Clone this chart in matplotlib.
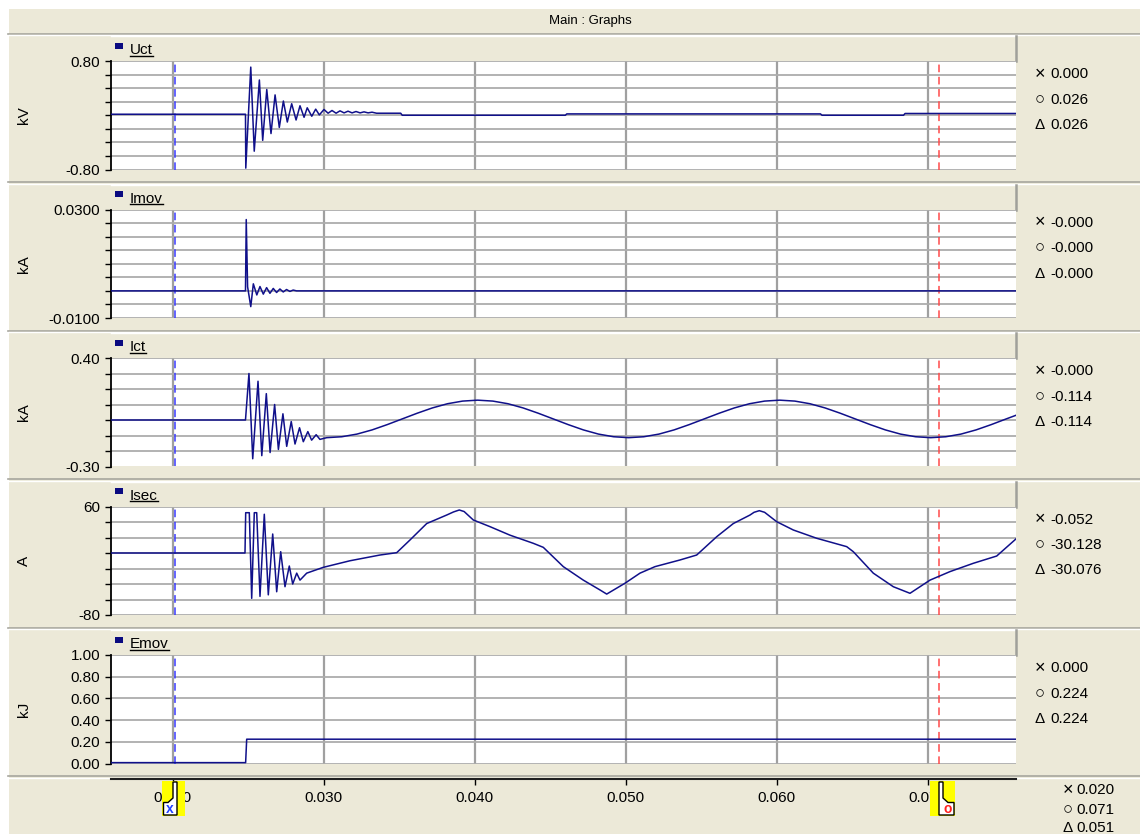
import matplotlib
matplotlib.use("Agg")
import matplotlib.pyplot as plt
from matplotlib.patches import Rectangle, Polygon
import numpy as np

W, H = 1140, 834
BEIGE = '#ECE9D8'
TRACE = '#10108A'
plt.rcParams['font.family'] = ['Liberation Sans', 'DejaVu Sans']

# ---- data (time in s) ----
uct_t = [0.0150, 0.02482, 0.02484, 0.02517, 0.02540, 0.02574, 0.02596, 0.02623, 0.02651,
         0.02678, 0.02706, 0.02733, 0.02759, 0.02788, 0.02817, 0.02843, 0.02870, 0.02891,
         0.02921, 0.02947, 0.02971, 0.03002, 0.03029, 0.03055, 0.03082, 0.03108, 0.03135,
         0.03161, 0.03188, 0.03214, 0.03241, 0.03267, 0.03294, 0.03320, 0.0335, 0.0351,
         0.0352, 0.0460, 0.0461, 0.0629, 0.0630, 0.0684, 0.0685, 0.0760]
uct_v = [0.015, 0.015, -0.78, 0.71, -0.53, 0.52, -0.37, 0.38, -0.27, 0.30, -0.18, 0.21,
         -0.10, 0.17, -0.07, 0.14, -0.03, 0.11, -0.015, 0.09, 0.005, 0.085, 0.03, 0.07,
         0.03, 0.065, 0.035, 0.06, 0.035, 0.055, 0.035, 0.05, 0.035, 0.045, 0.03, 0.03,
         0.0, 0.0, 0.02, 0.02, 0.0, 0.0, 0.026, 0.026]

imov_t = [0.0150, 0.02482, 0.02487, 0.02496, 0.02517, 0.02534, 0.02557, 0.02578, 0.02600,
          0.02622, 0.02644, 0.02666, 0.02688, 0.02710, 0.02732, 0.02754, 0.02776, 0.02798,
          0.02820, 0.0760]
imov_v = [0.0, 0.0, 0.0263, 0.0015, -0.0058, 0.0026, -0.0015, 0.0016, -0.0012, 0.0012,
          -0.0009, 0.0009, -0.0006, 0.0007, -0.0004, 0.0005, -0.0002, 0.0003, 0.0, 0.0]

ict_t = [0.0150, 0.02482, 0.02505, 0.02530, 0.02565, 0.02590, 0.02620, 0.02645, 0.02675,
         0.02700, 0.02730, 0.02755, 0.02785, 0.02810, 0.02840, 0.02865, 0.02895, 0.02920,
         0.02950, 0.02975,
         0.0302, 0.0312, 0.0322, 0.0332, 0.0342, 0.0352, 0.0362, 0.0372, 0.0382, 0.0392,
         0.0402, 0.0412, 0.0422, 0.0432, 0.0442, 0.0452, 0.0462, 0.0472, 0.0482, 0.0492,
         0.0502, 0.0512, 0.0522, 0.0532, 0.0542, 0.0552, 0.0562, 0.0572, 0.0582, 0.0592,
         0.0602, 0.0612, 0.0622, 0.0632, 0.0642, 0.0652, 0.0662, 0.0672, 0.0682, 0.0692,
         0.0702, 0.0712, 0.0722, 0.0732, 0.0742, 0.0752, 0.0760]
ict_v = [0.0, 0.0, 0.30, -0.25, 0.25, -0.23, 0.17, -0.21, 0.10, -0.19, 0.04, -0.17,
         -0.01, -0.155, -0.05, -0.14, -0.075, -0.13, -0.095, -0.125,
         -0.114, -0.108, -0.091, -0.064, -0.030, 0.007, 0.044, 0.078, 0.105, 0.122,
         0.128, 0.122, 0.105, 0.078, 0.044, 0.007, -0.030, -0.064, -0.091, -0.108,
         -0.114, -0.108, -0.091, -0.064, -0.030, 0.007, 0.044, 0.078, 0.105, 0.122,
         0.128, 0.122, 0.105, 0.078, 0.044, 0.007, -0.030, -0.064, -0.091, -0.108,
         -0.114, -0.108, -0.091, -0.064, -0.030, 0.007, 0.036]

isec_t = [0.0150, 0.024788, 0.024834, 0.024954, 0.025073, 0.025232, 0.025404, 0.025563,
          0.025781, 0.026066, 0.026331, 0.026623, 0.026887, 0.027152, 0.027437, 0.027722,
          0.027947, 0.028212, 0.028430, 0.028874, 0.029974, 0.031742, 0.033728, 0.034834,
          0.035715, 0.036821, 0.038146, 0.038600, 0.038980, 0.039300, 0.039907, 0.041013,
          0.042338, 0.043881, 0.044543, 0.045868, 0.047192, 0.048298, 0.048742, 0.049954,
          0.050947, 0.051940, 0.053596, 0.054702, 0.056026, 0.057126, 0.058232, 0.058500,
          0.058848, 0.059200, 0.060000, 0.061099, 0.062649, 0.064636, 0.065073, 0.066397,
          0.067722, 0.068828, 0.070152, 0.071477, 0.073020, 0.074570, 0.075894]
isec_v = [0.0, 0.0, 52, 52, 52, -58.5, 52, 52, -56, 50, -54, 24.5, -50, 1.7, -43.5, -16.8,
          -40, -26, -35, -26, -18.5, -10, -2.6, 0.4, 16.8, 38, 49, 53, 55.5, 53.5, 42.6,
          34, 23, 12.5, 7.3, -17.6, -35, -47.7, -53, -39, -26, -17.6, -9, -2.6, 21, 38,
          49, 52.5, 54.6, 52.5, 40.4, 29.7, 19, 8.2, 1.7, -26, -43.5, -52, -35, -24,
          -13.3, -3.9, 19]

emov_t = [0.0150, 0.02483, 0.02490, 0.0760]
emov_v = [0.008, 0.008, 0.224, 0.224]

names = ['Uct', 'Imov', 'Ict', 'Isec', 'Emov']
units = ['kV', 'kA', 'kA', 'A', 'kJ']
ylims = [(-0.8, 0.8), (-0.01, 0.03), (-0.3, 0.4), (-80, 60), (0.0, 1.0)]
ndiv = [8, 8, 7, 7, 5]
tick_fmt = ['%.2f', '%.4f', '%.2f', '%.0f', '%.2f']
readouts = [('0.000', '0.026', '0.026'),
            ('-0.000', '-0.000', '-0.000'),
            ('-0.000', '-0.114', '-0.114'),
            ('-0.052', '-30.128', '-30.076'),
            ('0.000', '0.224', '0.224')]
cursor_x, cursor_o = 0.02015, 0.07075
time_readout = ('0.020', '0.071', '0.051')
xticks = [0.020, 0.030, 0.040, 0.050, 0.060, 0.070]
xlim = (0.015894, 0.075848)
series = list(zip(names, units, [uct_t, imov_t, ict_t, isec_t, emov_t],
                  [uct_v, imov_v, ict_v, isec_v, emov_v], ylims, ndiv, tick_fmt, readouts))

# ---- layout (pixels, y from top) ----
PL, PR = 110.7, 1016.0
tops = [61, 209.5, 358, 506.5, 655]
PH = 108.5
SYMS = ['×', '○', 'Δ']
SYM_SIZES = [13, 12, 11]

fig = plt.figure(figsize=(W / 100, H / 100), dpi=100, facecolor='white')

bg = fig.add_axes([0, 0, 1, 1], zorder=0)
bg.set_xlim(0, W); bg.set_ylim(H, 0); bg.axis('off')
fg = fig.add_axes([0, 0, 1, 1], zorder=5)
fg.set_xlim(0, W); fg.set_ylim(H, 0); fg.axis('off'); fg.patch.set_alpha(0)

bg.add_patch(Rectangle((9, 9), W, H, facecolor=BEIGE, edgecolor='none'))
bg.text(590, 20.5, 'Main : Graphs', ha='center', va='center', fontsize=9.5, color='black')

# separators between blocks
for top in tops + [803.5]:
    bg.plot([8, W], [top - 27.5, top - 27.5], color='#A7A69E', lw=1.2)
    bg.plot([9, W], [top - 26, top - 26], color='white', lw=1.0)

header_texts = []
for (name, unit, t, v, ylim, nd, fmt, ro), top in zip(series, tops):
    # header strip
    bg.add_patch(Rectangle((PL - 0.7, top - 25), PR - PL + 0.7, 24.5,
                           facecolor=BEIGE, edgecolor='none'))
    bg.plot([PL, PR], [top - 25, top - 25], color='white', lw=1)
    bg.plot([PR, PR], [top - 25, top], color='#A0A09A', lw=1.8)
    bg.add_patch(Rectangle((115, top - 18.5), 8, 6, facecolor='#0A0A80', edgecolor='none'))
    header_texts.append(bg.text(130, top - 7, name, ha='left', va='baseline',
                                fontsize=11, color='black'))

    # y label
    bg.text(24, top + PH / 2, unit, rotation=90, ha='center', va='center', fontsize=11)

    # readouts on the right
    for sym, val, dy, fs in zip(SYMS, ro, [11.5, 37.0, 62.5], SYM_SIZES):
        bg.text(1040, top + dy, sym, ha='center', va='center_baseline', fontsize=fs)
        bg.text(1050, top + dy, val, ha='left', va='center_baseline', fontsize=11)

    ax = fig.add_axes([PL / W, 1 - (top + PH) / H, (PR - PL) / W, PH / H], zorder=1)
    ax.set_facecolor('white')
    ax.plot(t, v, color=TRACE, lw=1.1, zorder=4)
    ax.axvline(cursor_x, color='#3A3AFF', lw=1.1, ls=(0, (5, 3)), zorder=3)
    ax.axvline(cursor_o, color='#FF4A4A', lw=1.1, ls=(0, (5, 3)), zorder=3)
    ax.set_xlim(*xlim)
    ax.set_ylim(*ylim)
    yt = np.linspace(ylim[0], ylim[1], nd + 1)
    ax.set_yticks(yt)
    if nd == 5:
        labels = [fmt % y for y in yt]
    else:
        labels = [fmt % yt[0]] + [''] * (nd - 1) + [fmt % yt[-1]]
    ax.set_yticklabels(labels)
    ax.set_xticks(xticks)
    ax.tick_params(axis='x', length=0, labelbottom=False)
    ax.tick_params(axis='y', direction='out', length=4.2, width=1, pad=3.5,
                   labelsize=11, colors='black')
    ax.grid(axis='y', color='#ADADAD', lw=1.3)
    ax.grid(axis='x', color='#A0A0A0', lw=1.6)
    ax.set_axisbelow(True)
    for s in ['top', 'right', 'bottom']:
        ax.spines[s].set_visible(False)
    ax.spines['left'].set_color('black')
    ax.spines['left'].set_linewidth(1.3)

# bottom time axis
bx = fig.add_axes([PL / W, 1 - 779 / H, (PR - PL) / W, 0.5 / H], zorder=1)
bx.set_xlim(*xlim)
bx.set_ylim(0, 1)
bx.patch.set_alpha(0)
for s in ['top', 'right', 'left']:
    bx.spines[s].set_visible(False)
bx.spines['bottom'].set_color('#202020')
bx.spines['bottom'].set_linewidth(1.5)
bx.set_yticks([])
bx.set_xticks(xticks)
bx.set_xticklabels(['%.3f' % x for x in xticks])
bx.tick_params(axis='x', direction='out', length=4.5, width=1, pad=4, labelsize=11)

for sym, val, y, fs in zip(SYMS, time_readout, [789, 808.5, 826], SYM_SIZES):
    fg.text(1068, y, sym, ha='center', va='center_baseline', fontsize=fs)
    fg.text(1076, y, val, ha='left', va='center_baseline', fontsize=11)

# cursor flags on the time axis
fg.add_patch(Rectangle((162, 781), 23, 35, facecolor='#FFFF00', edgecolor='none'))
fg.add_patch(Polygon([(173, 782), (177, 782), (177, 815), (163.5, 815), (163.5, 802.5),
                      (168, 802.5), (173, 798)], closed=True, facecolor='white',
                     edgecolor='black', lw=1))
fg.text(170, 809, 'x', ha='center', va='center', fontsize=10, color='#2040FF',
        fontweight='bold')
fg.add_patch(Rectangle((930, 781), 25, 35, facecolor='#FFFF00', edgecolor='none'))
fg.add_patch(Polygon([(939, 782), (943, 782), (943, 798), (948, 802.5), (954, 802.5),
                      (954, 815), (939, 815)], closed=True, facecolor='white',
                     edgecolor='black', lw=1))
fg.text(947.5, 809, 'o', ha='center', va='center', fontsize=10, color='#FF2020',
        fontweight='bold')

# underline the header names
fig.canvas.draw()
r = fig.canvas.get_renderer()
for txt, top in zip(header_texts, tops):
    bb = txt.get_window_extent(r)
    bg.plot([bb.x0, bb.x1], [top - 5.5, top - 5.5], color='black', lw=1)

fig.savefig('out.png', dpi=100, facecolor='white')
